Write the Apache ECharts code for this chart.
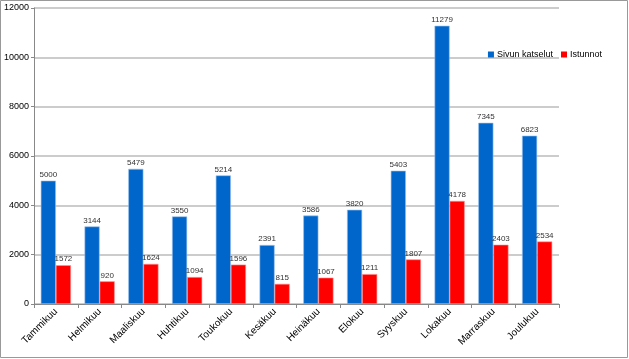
<!DOCTYPE html>
<html><head><meta charset="utf-8">
<script src="https://cdn.jsdelivr.net/npm/echarts@6/dist/echarts.min.js"></script>
<style>html,body{margin:0;padding:0;background:#fff}#c{width:629px;height:359px}</style>
</head><body><div id="c"></div>
<script>
const categories = ['Tammikuu','Helmikuu','Maaliskuu','Huhtikuu','Toukokuu','Kesäkuu','Heinäkuu','Elokuu','Syyskuu','Lokakuu','Marraskuu','Joulukuu'];
const sivunKatselut = [5000,3144,5479,3550,5214,2391,3586,3820,5403,11279,7345,6823];
const istunnot = [1572,920,1624,1094,1596,815,1067,1211,1807,4178,2403,2534];
const yTicks = [0,2000,4000,6000,8000,10000,12000];

const chart = echarts.init(document.getElementById('c'));
const lbl = {show:true, position:'top', fontSize:8, color:'#333', fontFamily:'Liberation Sans', distance:2};
chart.setOption({
  animation:false,
  graphic:[{type:'rect', shape:{x:0.5,y:0.5,width:627,height:357}, style:{fill:'none', stroke:'#999', lineWidth:1}, z:-1}],
  grid:{left:34, right:70, top:8, bottom:55},
  legend:{right:22, top:45, itemWidth:6, itemHeight:6, itemGap:8, icon:'rect',
    itemStyle:{borderWidth:0},
    textStyle:{fontSize:9, fontFamily:'Liberation Sans', color:'#000', padding:[0,0,0,-2]}},
  xAxis:{type:'category', data:categories,
    axisLine:{lineStyle:{color:'#888', width:1}},
    axisTick:{show:true, length:4, lineStyle:{color:'#888'}},
    axisLabel:{rotate:45, fontSize:10, color:'#000', fontFamily:'Liberation Sans', margin:6}},
  yAxis:{type:'value', min:0, max:12000, interval:2000,
    axisLine:{show:true, lineStyle:{color:'#888'}},
    axisTick:{show:true, length:3, lineStyle:{color:'#888'}},
    splitLine:{lineStyle:{color:'#bbb', width:1.5}},
    axisLabel:{fontSize:9, color:'#000', fontFamily:'Liberation Sans', margin:5,
      formatter:v=>yTicks.includes(v)?String(v):''}},
  series:[
    {name:'Sivun katselut', type:'bar', data:sivunKatselut, barGap:'0%', barCategoryGap:'31%',
      itemStyle:{color:'#0066CC', borderColor:'#9ec2ea', borderWidth:0.6}, label:lbl},
    {name:'Istunnot', type:'bar', data:istunnot,
      itemStyle:{color:'#FF0000', borderColor:'#ff9090', borderWidth:0.6}, label:lbl}
  ]
});
</script></body></html>
